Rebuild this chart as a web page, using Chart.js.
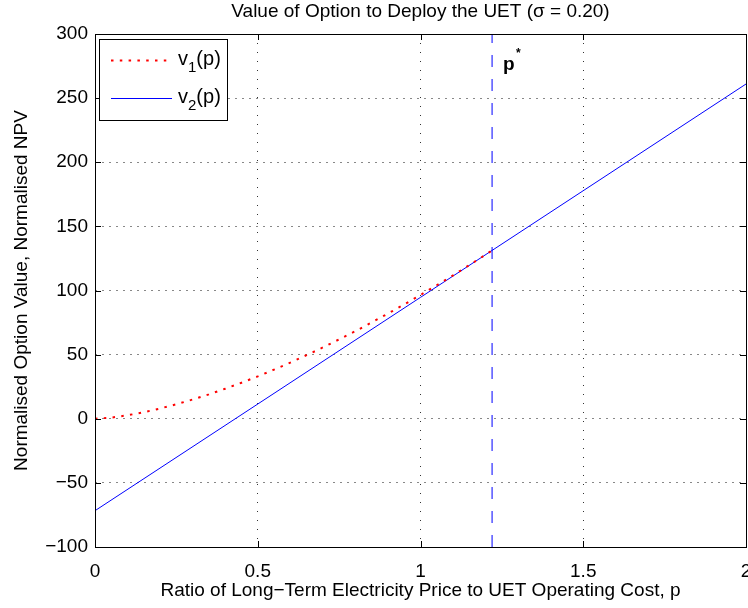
<!DOCTYPE html>
<html lang="en">
<head>
  <meta charset="UTF-8">
  <title>Value of Option to Deploy the UET</title>
  <script src="https://cdn.jsdelivr.net/npm/chart.js@4.4.1/dist/chart.umd.min.js"></script>
</head>
<style>
* {
  margin: 0;
  padding: 0;
}
body {
  background: #fff;
  width: 748px;
  height: 608px;
  overflow: hidden;
}
</style>
<body>
<canvas id="chart" width="748" height="608"></canvas>
<script>
// p grid and curves
const pGrid = [0, 0.05, 0.1, 0.15, 0.2, 0.25, 0.3, 0.35, 0.4, 0.45, 0.5, 0.55, 0.6,
  0.65, 0.7, 0.75, 0.8, 0.85, 0.9, 0.95, 1.0, 1.05, 1.1, 1.15, 1.2, 1.22];
const v1Values = [0, 0.9, 2.7, 5.1, 8.0, 11.3, 15.0, 19.0, 23.4, 28.1, 33.0, 38.3, 43.8,
  49.6, 55.6, 61.9, 68.3, 75.1, 82.0, 89.1, 96.5, 104.1, 111.8, 119.8, 127.9, 131.3];
const v2P = [0, 2];
const v2Values = [-71.7, 261];
const pStar = 1.22;
const seriesLabels = ["v1(p)", "v2(p)"];

const FONT = "'Liberation Sans', Arial, Helvetica, sans-serif";
const minus = (s) => String(s).replace("-", "\u2212");

const toPoints = (xs, ys) => xs.map((x, i) => ({ x: x, y: ys[i] }));

// inner tick marks, axes box, legend and p* annotation
const matlabFrame = {
  id: "matlabFrame",
  afterDatasetsDraw(chart) {
    const { ctx, chartArea: a, scales } = chart;
    ctx.save();
    ctx.strokeStyle = "#000";
    ctx.lineWidth = 1;
    ctx.beginPath();
    scales.y.ticks.forEach((t) => {
      const y = Math.round(scales.y.getPixelForValue(t.value)) + 0.5;
      ctx.moveTo(a.left, y); ctx.lineTo(a.left + 6, y);
      ctx.moveTo(a.right, y); ctx.lineTo(a.right - 6, y);
    });
    scales.x.ticks.forEach((t) => {
      const x = Math.round(scales.x.getPixelForValue(t.value)) + 0.5;
      ctx.moveTo(x, a.bottom); ctx.lineTo(x, a.bottom - 6);
      ctx.moveTo(x, a.top); ctx.lineTo(x, a.top + 6);
    });
    ctx.stroke();
    ctx.strokeRect(Math.round(a.left) + 0.5, Math.round(a.top) + 0.5,
      Math.round(a.right - a.left), Math.round(a.bottom - a.top));

    // p* label
    const px = scales.x.getPixelForValue(pStar);
    ctx.fillStyle = "#000";
    ctx.textBaseline = "alphabetic";
    ctx.font = "bold 19px " + FONT;
    ctx.fillText("p", px + 11, 70);
    ctx.font = "bold 12px " + FONT;
    ctx.fillText("*", px + 24, 57);

    // legend
    const lx = 99, ly = 39, lw = 128, lh = 81;
    ctx.fillStyle = "#fff";
    ctx.fillRect(lx, ly, lw, lh);
    ctx.strokeStyle = "#000";
    ctx.strokeRect(lx + 0.5, ly + 0.5, lw, lh);
    const rows = [60, 98];
    chart.data.datasets.slice(0, 2).forEach((ds, i) => {
      const y = rows[i];
      ctx.save();
      ctx.strokeStyle = ds.borderColor;
      ctx.lineWidth = ds.borderWidth;
      ctx.setLineDash(ds.borderDash || []);
      ctx.beginPath();
      ctx.moveTo(111, y + 0.5);
      ctx.lineTo(172, y + 0.5);
      ctx.stroke();
      ctx.restore();
      const lab = ds.label;
      ctx.fillStyle = "#000";
      ctx.font = "20px " + FONT;
      let x = 178;
      const base = y + 5;
      ctx.fillText(lab[0], x, base);
      x += ctx.measureText(lab[0]).width;
      ctx.font = "15px " + FONT;
      ctx.fillText(lab[1], x, base + 7);
      x += ctx.measureText(lab[1]).width;
      ctx.font = "20px " + FONT;
      ctx.fillText(lab.slice(2), x, base);
    });
    ctx.restore();
  }
};

new Chart(document.getElementById("chart"), {
  type: "line",
  plugins: [matlabFrame],
  data: {
    datasets: [
      {
        label: seriesLabels[0],
        data: toPoints(pGrid, v1Values),
        borderColor: "#ff0000",
        borderWidth: 2,
        borderDash: [2.5, 6.3],
        pointRadius: 0,
        tension: 0
      },
      {
        label: seriesLabels[1],
        data: toPoints(v2P, v2Values),
        borderColor: "#0000ff",
        borderWidth: 1,
        pointRadius: 0
      },
      {
        label: "p*",
        data: toPoints([pStar, pStar], [-100, 300]),
        borderColor: "#5555ff",
        borderWidth: 1.5,
        borderDash: [12, 12],
        pointRadius: 0
      }
    ]
  },
  options: {
    responsive: false,
    animation: false,
    events: [],
    layout: { padding: { left: 0, right: 2, top: 0, bottom: 0 } },
    plugins: {
      legend: { display: false },
      tooltip: { enabled: false },
      title: {
        display: true,
        fullSize: false,
        text: "Value of Option to Deploy the UET (\u03c3 = 0.20)",
        color: "#000",
        font: { family: FONT, size: 19, weight: "normal" },
        padding: { top: 0, bottom: 11.2 }
      }
    },
    scales: {
      x: {
        type: "linear",
        min: 0,
        max: 2,
        ticks: {
          stepSize: 0.5,
          color: "#000",
          padding: 13,
          maxRotation: 0,
          font: { family: FONT, size: 19 },
          callback: (v) => minus(v)
        },
        grid: { color: "#333", drawTicks: false },
        border: { display: false, dash: [1, 8] },
        title: {
          display: true,
          text: "Ratio of Long\u2212Term Electricity Price to UET Operating Cost, p",
          color: "#000",
          font: { family: FONT, size: 19 },
          padding: { top: 0, bottom: 6 }
        },
        afterFit: (s) => { s.height = 61; s.paddingLeft = 0; s.paddingRight = 0; }
      },
      y: {
        type: "linear",
        min: -100,
        max: 300,
        ticks: {
          stepSize: 50,
          color: "#000",
          padding: 7,
          font: { family: FONT, size: 19 },
          callback: (v) => minus(v)
        },
        grid: { color: "#888", drawTicks: false },
        border: { display: false, dash: [2, 5] },
        title: {
          display: true,
          text: "Normalised Option Value, Normalised NPV",
          color: "#000",
          font: { family: FONT, size: 19 },
          padding: { top: 10, bottom: 0 }
        },
        afterFit: (s) => { s.width = 95; s.paddingTop = 0; s.paddingBottom = 0; }
      }
    }
  }
});
</script>
</body>
</html>
